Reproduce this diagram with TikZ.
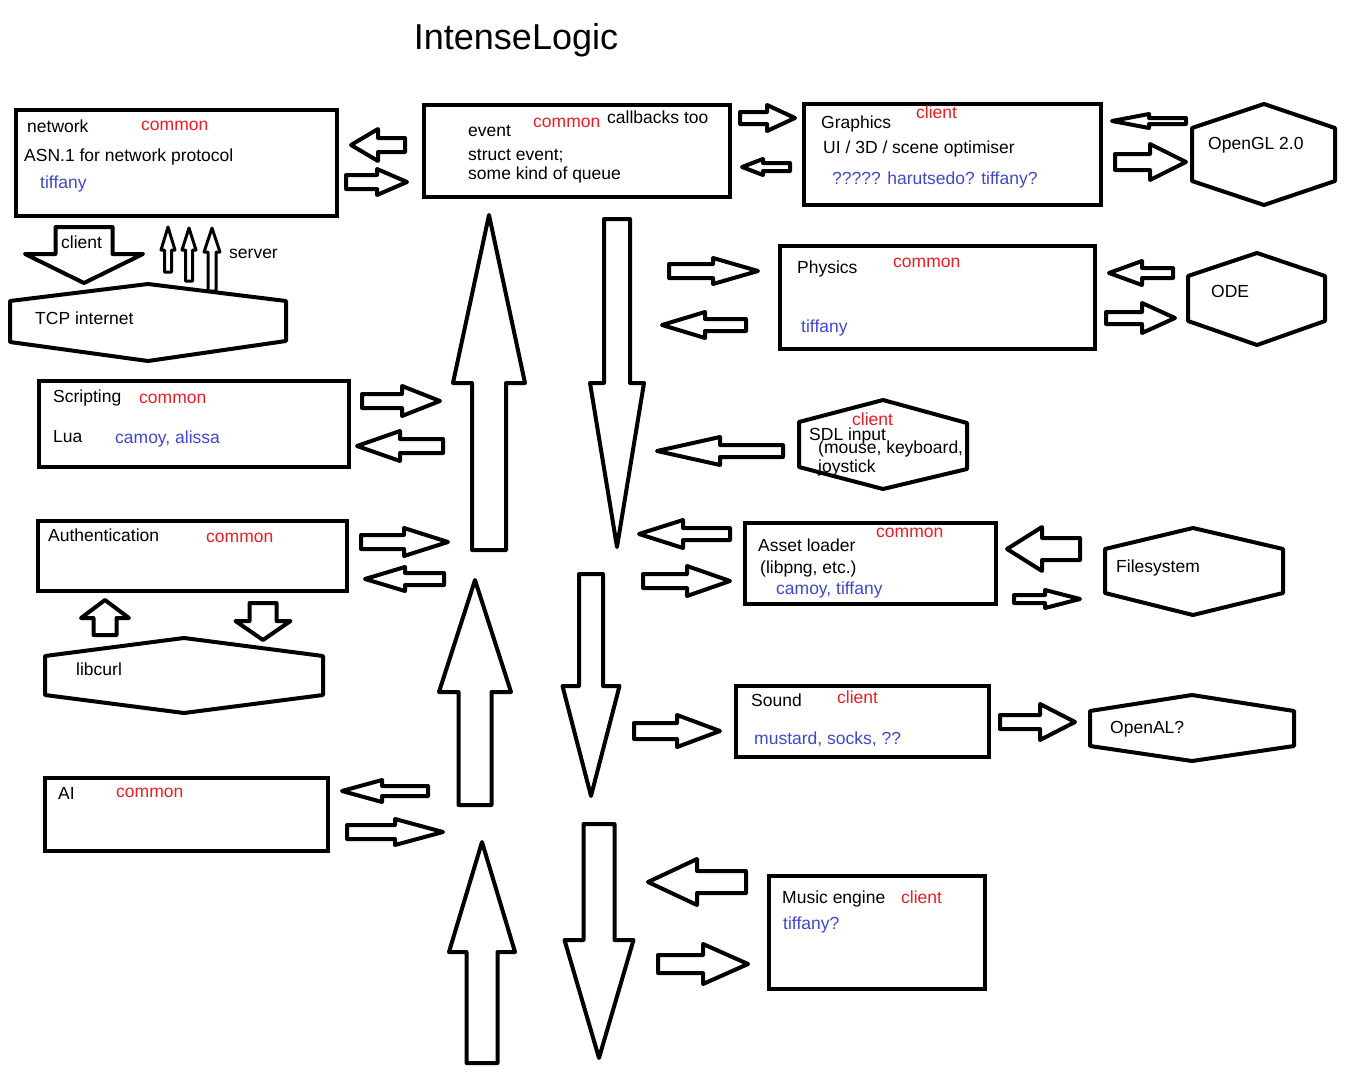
\documentclass[tikz,border=0pt]{standalone}
\usepackage{fontspec}
\setmainfont{Liberation Sans}
\definecolor{pred}{RGB}{237,28,36}
\definecolor{pblue}{RGB}{63,72,204}
\tikzset{
  box/.style={draw, line width=4pt, rectangle, inner sep=0pt, line join=miter},
  shp/.style={draw, line width=4pt, line join=round},
  thinshp/.style={draw, line width=3pt, line join=round},
  txt/.style={anchor=base west, inner sep=0pt, font=\fontsize{17.5}{20}\selectfont},
  rtxt/.style={txt, text=pred},
  btxt/.style={txt, text=pblue},
}
% horizontal block arrow: y, tip x, head base x, head half, tail x, shaft half
\newcommand\HArrow[7][shp]{\draw[#1] (#6,#2-#7) -- (#4,#2-#7) -- (#4,#2-#5) -- (#3,#2) -- (#4,#2+#5) -- (#4,#2+#7) -- (#6,#2+#7) -- cycle;}
% vertical block arrow: x, tip y, head base y, head half, tail y, shaft half
\newcommand\VArrow[7][shp]{\draw[#1] (#2-#7,#6) -- (#2-#7,#4) -- (#2-#5,#4) -- (#2,#3) -- (#2+#5,#4) -- (#2+#7,#4) -- (#2+#7,#6) -- cycle;}
\begin{document}
\begin{tikzpicture}[x=1pt,y=-1pt]
\useasboundingbox (0,0) rectangle (1349,1073);
\fill[white] (0,0) rectangle (1349,1073);

% title
\node[anchor=base, inner sep=0pt, font=\fontsize{36}{40}\selectfont] (title) at (516,49) {IntenseLogic};

% ---------- boxes ----------
\node[box, minimum width=321pt, minimum height=106pt] (network) at (176.5,163) {};
\node[box, minimum width=306pt, minimum height=92pt] (event) at (577,151) {};
\node[box, minimum width=297pt, minimum height=101pt] (graphics) at (952.5,154.5) {};
\node[box, minimum width=315pt, minimum height=103pt] (physics) at (937.5,297.5) {};
\node[box, minimum width=310pt, minimum height=86pt] (scripting) at (194,424) {};
\node[box, minimum width=309pt, minimum height=70pt] (auth) at (192.5,556) {};
\node[box, minimum width=283pt, minimum height=73pt] (ai) at (186.5,814.5) {};
\node[box, minimum width=251pt, minimum height=81pt] (asset) at (870.5,563.5) {};
\node[box, minimum width=253pt, minimum height=71pt] (sound) at (862.5,721.5) {};
\node[box, minimum width=216pt, minimum height=113pt] (music) at (877,932.5) {};

% ---------- hexagons ----------
\draw[shp] (1192,128) -- (1264,104) -- (1335,128) -- (1335,181) -- (1264,205) -- (1192,181) -- cycle;
\draw[shp] (1188,276) -- (1257,253) -- (1325,276) -- (1325,321) -- (1257,345) -- (1188,321) -- cycle;
\draw[shp] (10,301) -- (148,284) -- (286,301) -- (286,341) -- (148,361) -- (10,342) -- cycle;
\draw[shp] (799,422) -- (883,400) -- (967,423) -- (967,469) -- (883,489) -- (799,467) -- cycle;
\draw[shp] (1105,549) -- (1193,528) -- (1283,549) -- (1283,593) -- (1193,615) -- (1105,593) -- cycle;
\draw[shp] (1090,711) -- (1192,695) -- (1294,711) -- (1294,746) -- (1192,761) -- (1090,746) -- cycle;
\draw[shp] (45,656) -- (184,638) -- (323,656) -- (323,695) -- (184,713) -- (45,695) -- cycle;

% ---------- horizontal arrows ----------
\HArrow{145}{351}{378}{16}{405}{7}
\HArrow{182}{407}{377}{13}{346}{7}
\HArrow{118}{795}{767}{13}{740}{6}
\HArrow{167}{742}{763}{8}{790}{4}
\HArrow{121}{1112}{1149}{7}{1186}{3}
\HArrow{162}{1186}{1150}{18}{1115}{8}
\HArrow{271}{758}{713}{13}{669}{7}
\HArrow{325}{662}{705}{13}{746}{6}
\HArrow{273}{1109}{1142}{12}{1173}{5}
\HArrow{318}{1175}{1142}{15}{1106}{6}
\HArrow{401}{440}{402}{15}{362}{7}
\HArrow{446}{357}{400}{15}{443}{7}
\HArrow{542}{448}{404}{14}{361}{7}
\HArrow{579}{365}{405}{12}{444}{6}
\HArrow{791}{342}{382}{11}{428}{5}
\HArrow{832}{443}{395}{13}{347}{7}
\HArrow{451}{657}{720}{14}{783}{6}
\HArrow{534}{639}{683}{14}{730}{6}
\HArrow{581}{730}{687}{15}{643}{7}
\HArrow{549}{1007}{1042}{22}{1080}{11}
\HArrow{599}{1080}{1045}{9}{1014}{4}
\HArrow{731}{720}{677}{16}{634}{8}
\HArrow{722}{1075}{1040}{18}{1000}{7}
\HArrow{882}{648}{697}{23}{746}{11}
\HArrow{964}{748}{703}{20}{658}{9}

% ---------- vertical arrows ----------
\VArrow{489}{215}{383}{36}{550}{17}
\VArrow{617}{547}{383}{27}{219}{13}
\VArrow{475}{580}{692}{36}{805}{16.5}
\VArrow{591}{796}{686}{28.5}{574}{12}
\VArrow{482}{842}{952}{33}{1063}{15.5}
\VArrow{599}{1058}{940}{34.5}{824}{15.5}
\VArrow{84}{283}{254}{59}{227}{28.5}
\VArrow[thinshp]{168}{227}{250}{7}{272}{3.5}
\VArrow[thinshp]{189}{228}{250}{7}{281}{3.5}
\VArrow[thinshp]{212}{228}{252}{8}{291}{4}
\VArrow{105}{600}{618}{24}{635}{11.5}
\VArrow{263}{640}{621}{27.5}{603}{13.5}

% ---------- texts ----------
\node[txt] (t1) at (27,132) {network};
\node[rtxt] (t2) at (141,130) {common};
\node[txt] (t3) at (24,161) {ASN.1 for network protocol};
\node[btxt] (t4) at (40,188) {tiffany};

\node[txt] (t5) at (468,136) {event};
\node[rtxt] (t6) at (533,127) {common};
\node[txt] (t7) at (607,123) {callbacks too};
\node[txt] (t8) at (468,160) {struct event;};
\node[txt] (t9) at (468,179) {some kind of queue};

\node[txt] (t10) at (821,128) {Graphics};
\node[rtxt] (t11) at (916,118) {client};
\node[txt] (t12) at (823,153) {UI / 3D / scene optimiser};
\node[btxt] (t13) at (832,184) {????? harutsedo? tiffany?};
\node[txt] (t14) at (1208,149) {OpenGL 2.0};

\node[txt] (t15) at (797,273) {Physics};
\node[rtxt] (t16) at (893,267) {common};
\node[btxt] (t17) at (801,332) {tiffany};
\node[txt] (t18) at (1211,297) {ODE};

\node[txt] (t19) at (35,324) {TCP internet};
\node[txt] (t20) at (61,248) {client};
\node[txt] (t21) at (229,258) {server};

\node[txt] (t22) at (53,402) {Scripting};
\node[rtxt] (t23) at (139,403) {common};
\node[txt] (t24) at (53,442) {Lua};
\node[btxt] (t25) at (115,443) {camoy, alissa};

\node[txt] (t26) at (48,541) {Authentication};
\node[rtxt] (t27) at (206,542) {common};
\node[txt] (t28) at (76,675) {libcurl};

\node[txt] (t29) at (58,799) {AI};
\node[rtxt] (t30) at (116,797) {common};

\node[rtxt] (t31) at (852,425) {client};
\node[txt] (t32) at (809,440) {SDL input};
\node[txt] (t33) at (818,453) {(mouse, keyboard,};
\node[txt] (t34) at (818,472) {joystick};

\node[rtxt] (t35) at (876,537) {common};
\node[txt] (t36) at (758,551) {Asset loader};
\node[txt] (t37) at (760,573) {(libpng, etc.)};
\node[btxt] (t38) at (776,594) {camoy, tiffany};
\node[txt] (t39) at (1116,572) {Filesystem};

\node[txt] (t40) at (751,706) {Sound};
\node[rtxt] (t41) at (837,703) {client};
\node[btxt] (t42) at (754,744) {mustard, socks, ??};
\node[txt] (t43) at (1110,733) {OpenAL?};

\node[txt] (t44) at (782,903) {Music engine};
\node[rtxt] (t45) at (901,903) {client};
\node[btxt] (t46) at (783,929) {tiffany?};
\end{tikzpicture}
\end{document}
